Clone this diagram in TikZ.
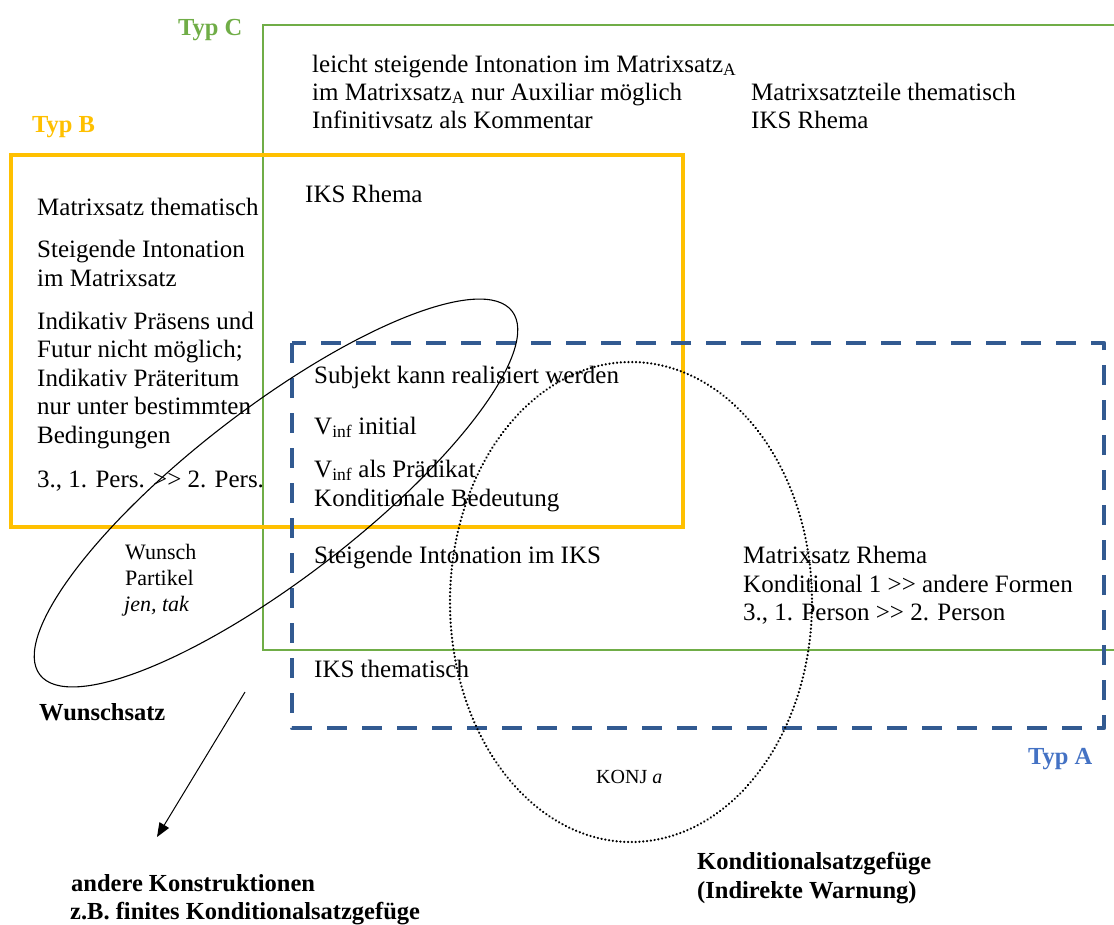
\documentclass[tikz,border=0pt]{standalone}
\usepackage{fontspec}
\setmainfont{Liberation Serif}
\usetikzlibrary{arrows.meta}
\definecolor{typC}{RGB}{112,173,71}
\definecolor{typB}{RGB}{255,192,0}
\definecolor{typAline}{RGB}{50,90,145}
\definecolor{typAlab}{RGB}{68,114,196}
\newcommand{\gtgt}{>{}>}
\begin{document}
\begin{tikzpicture}[x=1pt,y=-1pt,
  txt/.style={anchor=base west,inner sep=0pt,font=\fontsize{25}{29}\selectfont,align=left},
  small/.style={anchor=base west,inner sep=0pt,font=\fontsize{22}{26}\selectfont,align=left},
  lab/.style={anchor=base west,inner sep=0pt,font=\fontsize{24.5}{28.5}\selectfont\bfseries,align=left},
  boxC/.style={draw=typC,line width=2pt},
  boxB/.style={draw=typB,line width=4pt},
  boxA/.style={draw=typAline,line width=4.5pt,dash pattern=on 20pt off 15pt,line join=round},
  ell/.style={draw=black,line width=1.1pt},
  dotell/.style={draw=black,line width=2.5pt,dash pattern=on 0.01pt off 3.8pt,line cap=round}
]
\useasboundingbox (0,0) rectangle (1114,924);
% boxes
\draw[boxC] (1116,25) -- (263,25) -- (263,650) -- (1116,650);
\draw[boxB] (11,155) rectangle (683,527);
\draw[boxA] (292,343) rectangle (1104,728);
% ellipses
\draw[ell] (276,493) ellipse [x radius=298, y radius=85, rotate=37.6];
\draw[dotell] (631,602) ellipse [x radius=181, y radius=240];
% labels
\node[lab,text=typC] (tC) at (178,35) {Typ C};
\node[lab,text=typB] (tB) at (32,132) {Typ B};
\node[lab,text=typAlab] (tA) at (1028,764) {Typ A};
% Typ C texts
\node[txt] (c1) at (312,72) {leicht steigende Intonation im Matrixsatz\textsubscript{A}};
\node[txt] (c2) at (312,100) {im Matrixsatz\textsubscript{A} nur Auxiliar möglich};
\node[txt] (c3) at (312,128) {Infinitivsatz als Kommentar};
\node[txt] (c4) at (751,100) {Matrixsatzteile thematisch};
\node[txt] (c5) at (751,128) {IKS Rhema};
\node[txt] (c6) at (305,202) {IKS Rhema};
% Typ B texts
\node[txt] (b1) at (37,215) {Matrixsatz thematisch};
\node[txt] (b2) at (37,257) {Steigende Intonation};
\node[txt] (b3) at (37,286) {im Matrixsatz};
\node[txt] (b4) at (37,329) {Indikativ Präsens und};
\node[txt] (b5) at (37,357) {Futur nicht möglich;};
\node[txt] (b6) at (37,386) {Indikativ Präteritum};
\node[txt] (b7) at (37,414) {nur unter bestimmten};
\node[txt] (b8) at (37,443) {Bedingungen};
\node[txt] (b9) at (37,487) {3., 1. Pers. \gtgt{} 2. Pers.};
% Typ A texts
\node[txt] (a1) at (314,383) {Subjekt kann realisiert werden};
\node[txt] (a2) at (314,434) {V\textsubscript{inf} initial};
\node[txt] (a3) at (314,477) {V\textsubscript{inf} als Prädikat};
\node[txt] (a4) at (314,506) {Konditionale Bedeutung};
\node[txt] (a5) at (314,563) {Steigende Intonation im IKS};
\node[txt] (a6) at (314,677) {IKS thematisch};
\node[txt] (a7) at (743,563) {Matrixsatz Rhema};
\node[txt] (a8) at (743,592) {Konditional 1 \gtgt{} andere Formen};
\node[txt] (a9) at (743,620) {3., 1. Person \gtgt{} 2. Person};
% Wunsch
\node[small] (w1) at (125,559) {Wunsch};
\node[small] (w2) at (125,585) {Partikel};
\node[small] (w3) at (124,611) {\itshape jen, tak};
\node[lab] (ws) at (39,720) {Wunschsatz};
% KONJ
\node[anchor=base west,inner sep=0pt,font=\fontsize{20}{24}\selectfont] (konj) at (596,783) {KONJ \textit{a}};
% bottom labels
\node[lab] (k1) at (697,869) {Konditionalsatzgefüge};
\node[lab] (k2) at (697,898) {(Indirekte Warnung)};
\node[lab] (o1) at (71,891) {andere Konstruktionen};
\node[lab] (o2) at (70,919) {z.B. finites Konditionalsatzgefüge};
% arrow
\coordinate (as) at (245,692);
\coordinate (ae) at (157,837);
\draw[line width=1pt,-{Triangle[length=14pt,width=11pt]}] (as) -- (ae);
\end{tikzpicture}
\end{document}
